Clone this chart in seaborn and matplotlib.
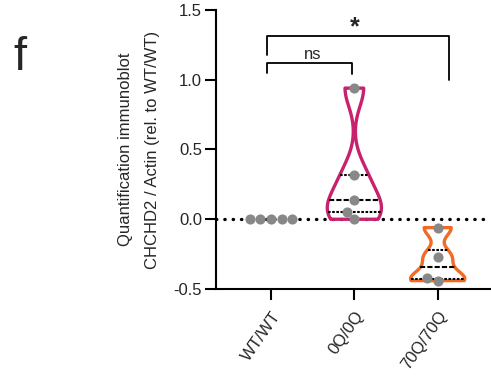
import numpy as np
import pandas as pd
import seaborn as sns
import matplotlib.pyplot as plt

# values
groups = ["WT/WT", "0Q/0Q", "70Q/70Q"]
wt_vals = [0.0, 0.0, 0.0, 0.0, 0.0]
q0_vals = [0.94, 0.317, 0.137, 0.053, 0.0]
q70_vals = [-0.06, -0.27, -0.42, -0.44]
violin_colors = {"0Q/0Q": "#C8216E", "70Q/70Q": "#F26A24"}

sns.set_style("ticks")
plt.rcParams['font.family'] = ['Liberation Sans', 'DejaVu Sans']
plt.rcParams['axes.unicode_minus'] = False

df = pd.DataFrame({
    "group": ["WT/WT"] * len(wt_vals) + ["0Q/0Q"] * len(q0_vals) + ["70Q/70Q"] * len(q70_vals),
    "value": wt_vals + q0_vals + q70_vals,
})
df_violin = df[df["group"] != "WT/WT"]

fig = plt.figure(figsize=(4.91, 3.76), dpi=100)
ax = fig.add_axes([0.44, 0.2314, 0.56, 0.742])

ax.axhline(0, color="black", lw=2.4, linestyle=(0, (0.1, 2.4)), dash_capstyle="round", zorder=1)

sns.violinplot(data=df_violin, x="group", y="value", hue="group", order=groups,
               palette=violin_colors, fill=False, cut=0, bw_adjust=0.47,
               density_norm="width", width=0.65, linewidth=2.4, inner="quart",
               inner_kws=dict(color="black", linewidth=1.5), legend=False, ax=ax)

sns.swarmplot(data=df, x="group", y="value", order=groups, color="#888888",
              size=7.3, ax=ax, zorder=3)

ax.set_xlim(-0.66, 2.64)
ax.set_ylim(-0.5, 1.5)
ax.set_yticks([-0.5, 0.0, 0.5, 1.0, 1.5])
ax.set_yticklabels(["-0.5", "0.0", "0.5", "1.0", "1.5"])
ax.set_xticks([0, 1, 2])
ax.set_xticklabels(groups, rotation=55, ha="right", rotation_mode="anchor")
ax.tick_params(axis="both", labelsize=12, width=1.5, length=8, pad=2, color="black")
ax.tick_params(axis="x", pad=6)
sns.despine(ax=ax)
for s in ["left", "bottom"]:
    ax.spines[s].set_linewidth(1.5)
    ax.spines[s].set_color("black")

ax.set_xlabel("")
ax.set_ylabel("Quantification immunoblot\nCHCHD2 / Actin (rel. to WT/WT)",
              fontsize=12, linespacing=1.95, labelpad=10)

# significance brackets
ax.plot([-0.05, -0.05, 0.97, 0.97], [1.05, 1.12, 1.12, 1.04], color="black", lw=1.3, clip_on=False)
ax.text(0.5, 1.13, "ns", ha="center", va="bottom", fontsize=12)
ax.plot([-0.05, -0.05, 2.13, 2.13], [1.18, 1.317, 1.317, 1.0], color="black", lw=1.3, clip_on=False)
ax.text(1.0, 1.29, "*", ha="center", va="bottom", fontsize=18, fontweight="bold")

fig.text(0.027, 0.814, "f", fontsize=34, va="baseline")

fig.savefig("out.png", dpi=100, facecolor="w")
